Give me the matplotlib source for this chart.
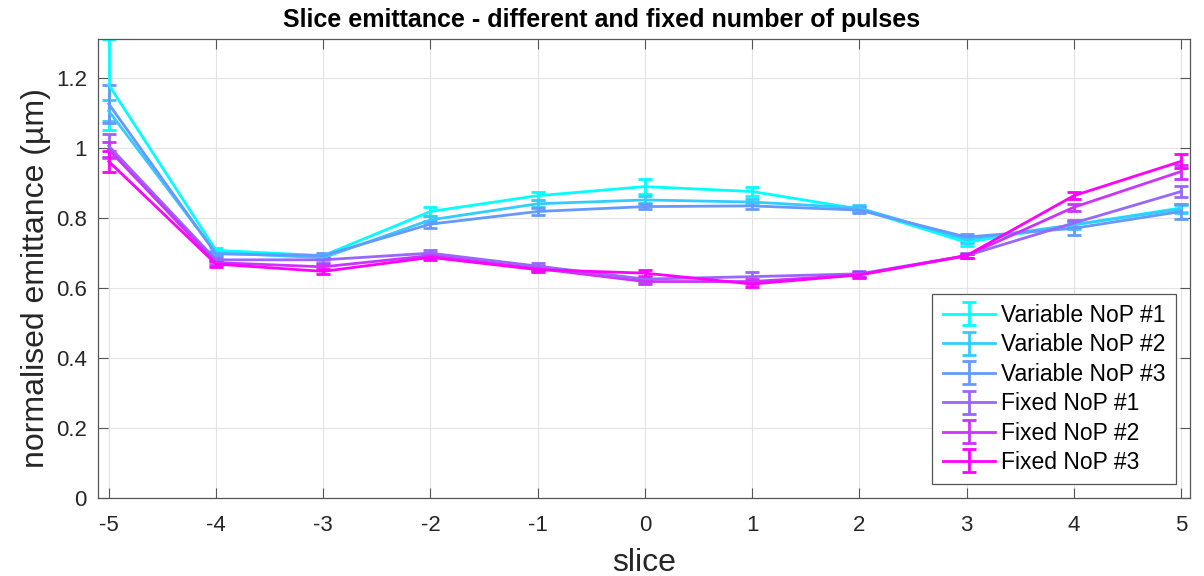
import numpy as np
import matplotlib.pyplot as plt

plt.rcParams['font.family'] = ['Liberation Sans', 'DejaVu Sans']
plt.rcParams['axes.unicode_minus'] = False

# slice index
slices = [-5, -4, -3, -2, -1, 0, 1, 2, 3, 4, 5]

labels = ['Variable NoP #1', 'Variable NoP #2', 'Variable NoP #3',
          'Fixed NoP #1', 'Fixed NoP #2', 'Fixed NoP #3']

# normalised emittance (um)
var1 = [1.180, 0.707, 0.692, 0.818, 0.863, 0.889, 0.875, 0.825, 0.730, 0.780, 0.828]
var2 = [1.105, 0.700, 0.686, 0.794, 0.840, 0.851, 0.845, 0.828, 0.738, 0.780, 0.825]
var3 = [1.125, 0.697, 0.692, 0.782, 0.818, 0.832, 0.834, 0.822, 0.745, 0.770, 0.818]
fix1 = [1.005, 0.680, 0.680, 0.699, 0.662, 0.625, 0.632, 0.640, 0.692, 0.785, 0.875]
fix2 = [0.995, 0.672, 0.660, 0.692, 0.655, 0.618, 0.618, 0.637, 0.692, 0.830, 0.932]
fix3 = [0.961, 0.668, 0.647, 0.687, 0.652, 0.642, 0.611, 0.637, 0.692, 0.863, 0.961]

# error bar half-widths
var1_err = [0.130, 0.008, 0.006, 0.014, 0.012, 0.021, 0.012, 0.008, 0.010, 0.010, 0.012]
var2_err = [0.030, 0.006, 0.006, 0.010, 0.010, 0.010, 0.008, 0.008, 0.010, 0.012, 0.012]
var3_err = [0.055, 0.006, 0.008, 0.010, 0.010, 0.008, 0.010, 0.008, 0.010, 0.018, 0.020]
fix1_err = [0.033, 0.006, 0.008, 0.010, 0.010, 0.008, 0.014, 0.008, 0.008, 0.010, 0.016]
fix2_err = [0.020, 0.008, 0.008, 0.008, 0.008, 0.008, 0.008, 0.006, 0.006, 0.010, 0.020]
fix3_err = [0.030, 0.008, 0.008, 0.008, 0.008, 0.010, 0.008, 0.008, 0.006, 0.010, 0.020]

series = [var1, var2, var3, fix1, fix2, fix3]
errors = [var1_err, var2_err, var3_err, fix1_err, fix2_err, fix3_err]
# MATLAB "cool" colormap, 6 steps
colors = [(0, 1, 1), (0.2, 0.8, 1), (0.4, 0.6, 1),
          (0.6, 0.4, 1), (0.8, 0.2, 1), (1, 0, 1)]

fig = plt.figure(figsize=(12.04, 5.76), dpi=100)
ax = fig.add_axes([0.0814, 0.1354, 0.9066, 0.7966])

for y, e, c, lab in zip(series, errors, colors, labels):
    ax.errorbar(slices, y, yerr=e, color=c, lw=2, elinewidth=2,
                capsize=5, capthick=2, label=lab)

ax.set_xlim(-5.1, 5.08)
ax.set_ylim(0, 1.31)
ax.set_xticks(slices)
ax.set_yticks([0, 0.2, 0.4, 0.6, 0.8, 1, 1.2])
ax.set_yticklabels(['0', '0.2', '0.4', '0.6', '0.8', '1', '1.2'])
ax.grid(True, color='#e3e3e3', lw=0.8)
ax.set_axisbelow(True)
for s in ax.spines.values():
    s.set_color('#555555')
    s.set_linewidth(0.9)
ax.tick_params(direction='in', top=True, right=True, labelsize=16,
               colors='#555555', labelcolor='#262626', length=7)
ax.tick_params(axis='x', pad=12)
ax.tick_params(axis='y', pad=8)

ax.set_xlabel('slice', fontsize=23, color='#262626', labelpad=9)
ax.set_ylabel('normalised emittance (\u00b5m)', fontsize=23, color='#262626')
ax.yaxis.set_label_coords(-0.043, 0.48)
ax.set_title('Slice emittance - different and fixed number of pulses',
             fontsize=18, fontweight='bold', pad=9, x=0.4615)

leg = ax.legend(loc='lower right', fontsize=16.5, fancybox=False, framealpha=1,
                edgecolor='#555555', handlelength=2.3, handletextpad=0.25,
                borderaxespad=0.6, borderpad=0.45, labelspacing=0.28)
leg.get_frame().set_linewidth(0.9)

fig.savefig('out.png', dpi=100)
